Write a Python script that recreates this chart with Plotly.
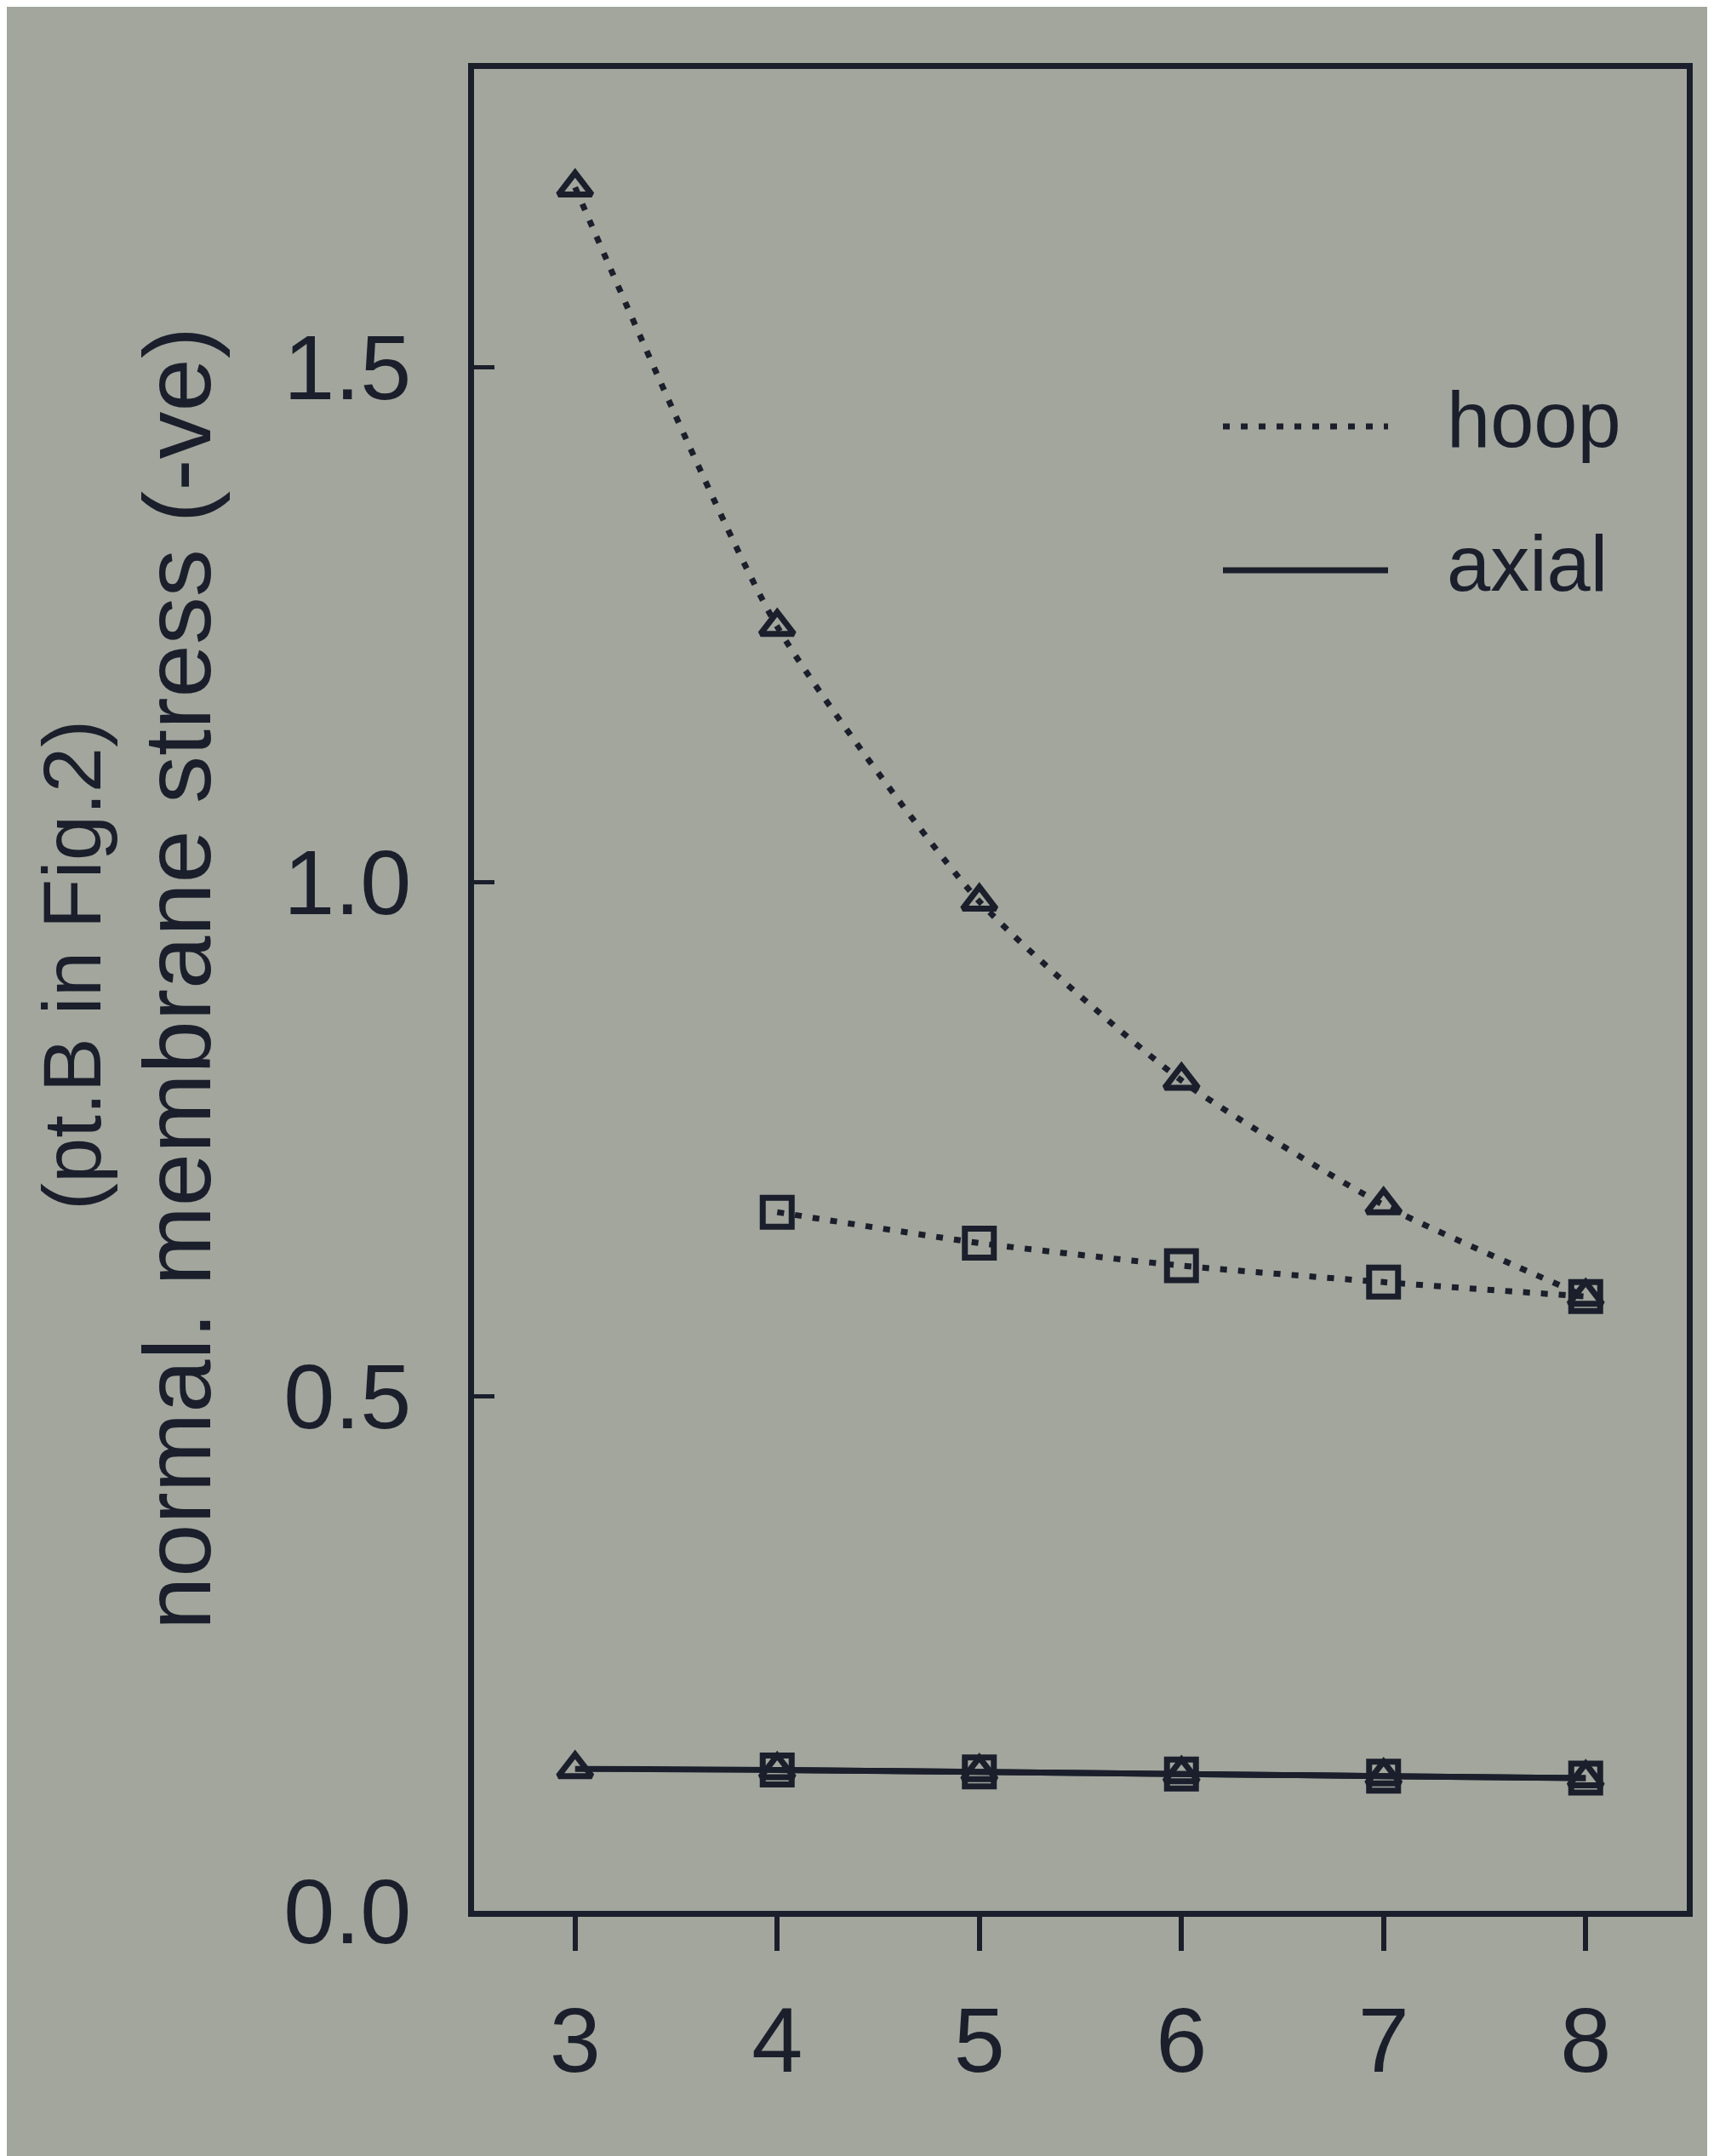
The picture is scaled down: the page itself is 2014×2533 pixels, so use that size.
import plotly.graph_objects as go

# ---- data ----
x_tri = [3, 4, 5, 6, 7, 8]
x_sq = [4, 5, 6, 7, 8]
hoop_tri = [1.675, 1.248, 0.981, 0.807, 0.686, 0.597]
hoop_sq = [0.679, 0.649, 0.627, 0.611, 0.597]
axial_tri = [0.138, 0.137, 0.135, 0.133, 0.131, 0.129]
axial_sq = [0.137, 0.135, 0.133, 0.131, 0.129]
x_ticks = [3, 4, 5, 6, 7, 8]
y_ticks = [0.0, 0.5, 1.0, 1.5]
legend_names = ["hoop", "axial"]
y_title = "normal. membrane stress (-ve)"
y_subtitle = "(pt.B in Fig.2)"

# ---- style ----
BG = "#a2a69c"
INK = "#1b1f2c"
FONT = "Liberation Sans, Arial, sans-serif"
W, H = 2014, 2533
ML, MR, MT, MB = 549, 40, 73, 296
DOT = "8px,13px"

fig = go.Figure()

def add(x, y, dash, symbol, size):
    fig.add_trace(go.Scatter(
        x=x, y=y, mode="lines+markers",
        line=dict(color=INK, width=7, dash=dash, shape="spline", smoothing=0.6),
        marker=dict(symbol=symbol, size=size, color=INK,
                    line=dict(color=INK, width=7)),
        showlegend=False, hoverinfo="skip"))

add(x_tri, hoop_tri, DOT, "triangle-up-open", 34)
add(x_sq, hoop_sq, DOT, "square-open", 34)
add(x_tri, axial_tri, "solid", "triangle-up-open", 34)
add(x_sq, axial_sq, "solid", "square-open", 34)

pw = W - ML - MR
ph = H - MT - MB
def px(xp):
    return (xp - ML) / pw
def py(yp):
    return (H - MB - yp) / ph

# legend drawn as decoration
leg_rows = [(493, DOT), (662, "solid")]
for (yp, dash), name in zip(leg_rows, legend_names):
    fig.add_shape(type="line", xref="paper", yref="paper",
                  x0=px(1429), x1=px(1623), y0=py(yp), y1=py(yp),
                  line=dict(color=INK, width=7, dash=dash))
    fig.add_annotation(xref="paper", yref="paper", x=px(1690), y=py(yp - 8),
                       text=name, showarrow=False, xanchor="left", yanchor="middle",
                       font=dict(family=FONT, size=92, color=INK))

# y-axis titles
fig.add_annotation(xref="paper", yref="paper", x=px(200), y=py(1142),
                   text=y_title, textangle=-90, showarrow=False,
                   xanchor="center", yanchor="middle",
                   font=dict(family=FONT, size=112, color=INK))
fig.add_annotation(xref="paper", yref="paper", x=px(76), y=py(1126),
                   text=y_subtitle, textangle=-90, showarrow=False,
                   xanchor="center", yanchor="middle",
                   font=dict(family=FONT, size=96, color=INK))

fig.update_layout(
    width=W, height=H,
    margin=dict(l=ML, r=MR, t=MT, b=MB),
    paper_bgcolor=BG, plot_bgcolor=BG,
    font=dict(family=FONT, color=INK),
    xaxis=dict(range=[2.5, 8.5], tickvals=x_ticks, ticktext=[str(v) for v in x_ticks],
               ticks="outside", ticklen=40, tickwidth=6, tickcolor=INK,
               showline=True, linecolor=INK, linewidth=7, mirror=True,
               showgrid=False, zeroline=False, ticklabelstandoff=12,
               tickfont=dict(family=FONT, size=108, color=INK)),
    yaxis=dict(range=[0, 1.79], tickvals=y_ticks, tickformat=".1f",
               ticks="inside", ticklen=24, tickwidth=5, tickcolor=INK,
               showline=True, linecolor=INK, linewidth=7, mirror=True,
               showgrid=False, zeroline=False, ticklabelstandoff=45,
               tickfont=dict(family=FONT, size=108, color=INK)),
)

fig.write_html("out.html")
